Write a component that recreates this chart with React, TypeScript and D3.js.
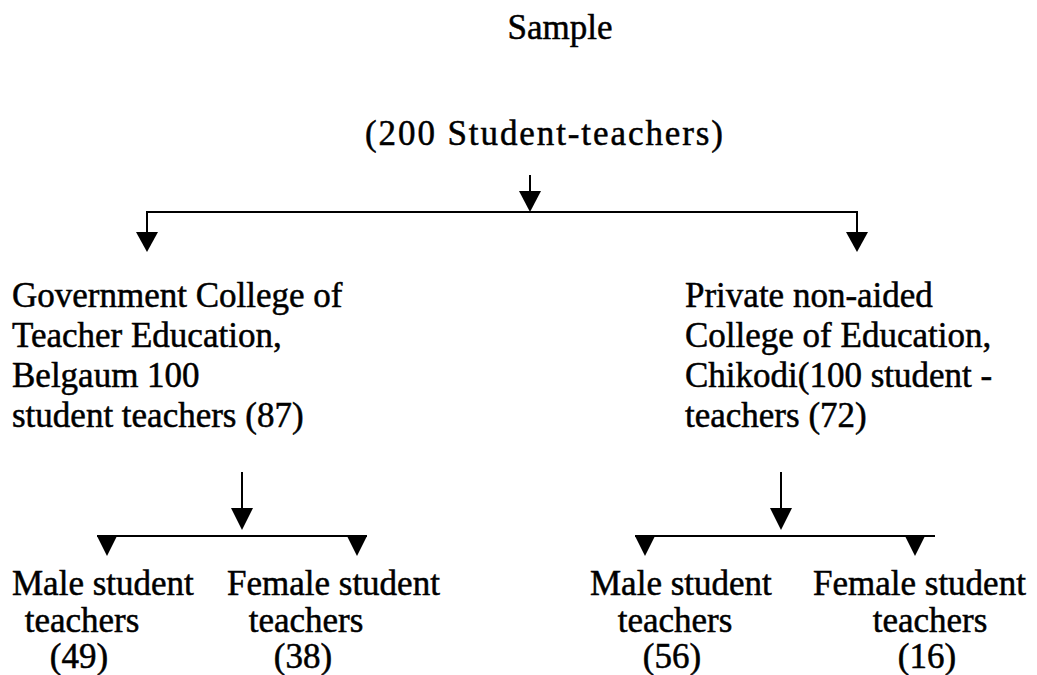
import React from "react";
import * as d3 from "d3";

// ---- data ----
const rootTitle = "Sample";
const rootTotal = 200;
const rootUnit = "Student-teachers";

const collegeLines: string[][] = [
  ["Government College of", "Teacher Education,", "Belgaum 100", "student teachers (87)"],
  ["Private non-aided", "College of Education,", "Chikodi(100 student -", "teachers (72)"],
];
const collegeCounts = [87, 72];

const genderNames = ["Male student", "Female student"];
const genderCounts = [
  [49, 38],
  [56, 16],
];

// ---- layout ----
const W = 1037;
const H = 675;
const FONT = "'Liberation Serif', 'Times New Roman', serif";
const FS = 35;

const L = {
  rootX: 530,
  titleX: 560,
  titleY: 39,
  totalX: 544,
  totalY: 145,
  rootArrowTop: 175,
  bar1Y: 212,
  collegeX: [147, 857],
  collegeArrowTip: 252,
  collegeTextX: [12, 685],
  collegeTextY: 307,
  lineGap: 40,
  subArrowX: [242, 781],
  subArrowTop: 472,
  bar2Y: 536,
  bar2Span: [
    [97, 367],
    [635, 935],
  ],
  childX: [
    [107, 357],
    [645, 915],
  ],
  childTip: 556,
  genderStartX: [
    [12, 227],
    [590, 813],
  ],
  genderCenterX: [
    [82, 306],
    [675, 930],
  ],
  genderY: 595,
};

function headPath(x: number, tipY: number, w: number, h: number) {
  const p = d3.path();
  p.moveTo(x - w / 2, tipY - h);
  p.lineTo(x + w / 2, tipY - h);
  p.lineTo(x, tipY);
  p.closePath();
  return p.toString();
}

function linePath(x1: number, y1: number, x2: number, y2: number) {
  const p = d3.path();
  p.moveTo(x1, y1);
  p.lineTo(x2, y2);
  return p.toString();
}

export default function App() {
  const textStyle: React.CSSProperties = {
    fontFamily: FONT,
    fontSize: FS,
    fill: "#000",
    stroke: "#000",
    strokeWidth: 0.5,
  };
  return (
    <svg
      width={W}
      height={H}
      viewBox={`0 0 ${W} ${H}`}
      style={{ position: "absolute", left: 0, top: 0, background: "#fff" }}
    >
      <rect x={0} y={0} width={W} height={H} fill="#fff" />
      <text x={L.titleX} y={L.titleY} textAnchor="middle" style={textStyle}>
        {rootTitle}
      </text>
      <text x={L.totalX} y={L.totalY} textAnchor="middle" style={textStyle} textLength={358} lengthAdjust="spacing">
        {`(${rootTotal} ${rootUnit})`}
      </text>

      {/* root arrow */}
      <path d={linePath(L.rootX, L.rootArrowTop, L.rootX, L.bar1Y - 18)} stroke="#000" strokeWidth={2} />
      <path d={headPath(L.rootX, L.bar1Y, 22, 21)} fill="#000" />
      <path d={linePath(L.collegeX[0], L.bar1Y, L.collegeX[1], L.bar1Y)} stroke="#000" strokeWidth={2} />

      {collegeCounts.map((c, i) => (
        <g key={"col" + i}>
          <path d={linePath(L.collegeX[i], L.bar1Y - 1, L.collegeX[i], L.collegeArrowTip - 18)} stroke="#000" strokeWidth={2} />
          <path d={headPath(L.collegeX[i], L.collegeArrowTip, 22, 20)} fill="#000" />
          {collegeLines[i].map((ln, j) => (
            <text key={j} x={L.collegeTextX[i]} y={L.collegeTextY + j * L.lineGap} style={textStyle}>
              {ln}
            </text>
          ))}
          {/* sub arrow */}
          <path d={linePath(L.subArrowX[i], L.subArrowTop, L.subArrowX[i], L.bar2Y - 20)} stroke="#000" strokeWidth={2} />
          <path d={headPath(L.subArrowX[i], L.bar2Y - 6, 22, 22)} fill="#000" />
          <path d={linePath(L.bar2Span[i][0], L.bar2Y, L.bar2Span[i][1], L.bar2Y)} stroke="#000" strokeWidth={2} />
          {genderCounts[i].map((g, k) => (
            <g key={"g" + k}>
              <path d={headPath(L.childX[i][k], L.childTip, 20, 20)} fill="#000" />
              <text x={L.genderStartX[i][k]} y={L.genderY} style={textStyle}>
                {genderNames[k]}
              </text>
              <text x={L.genderCenterX[i][k]} y={L.genderY + 37} textAnchor="middle" style={textStyle}>
                teachers
              </text>
              <text x={L.genderCenterX[i][k] - 3} y={L.genderY + 73} textAnchor="middle" style={textStyle}>
                {`(${g})`}
              </text>
            </g>
          ))}
        </g>
      ))}
    </svg>
  );
}
